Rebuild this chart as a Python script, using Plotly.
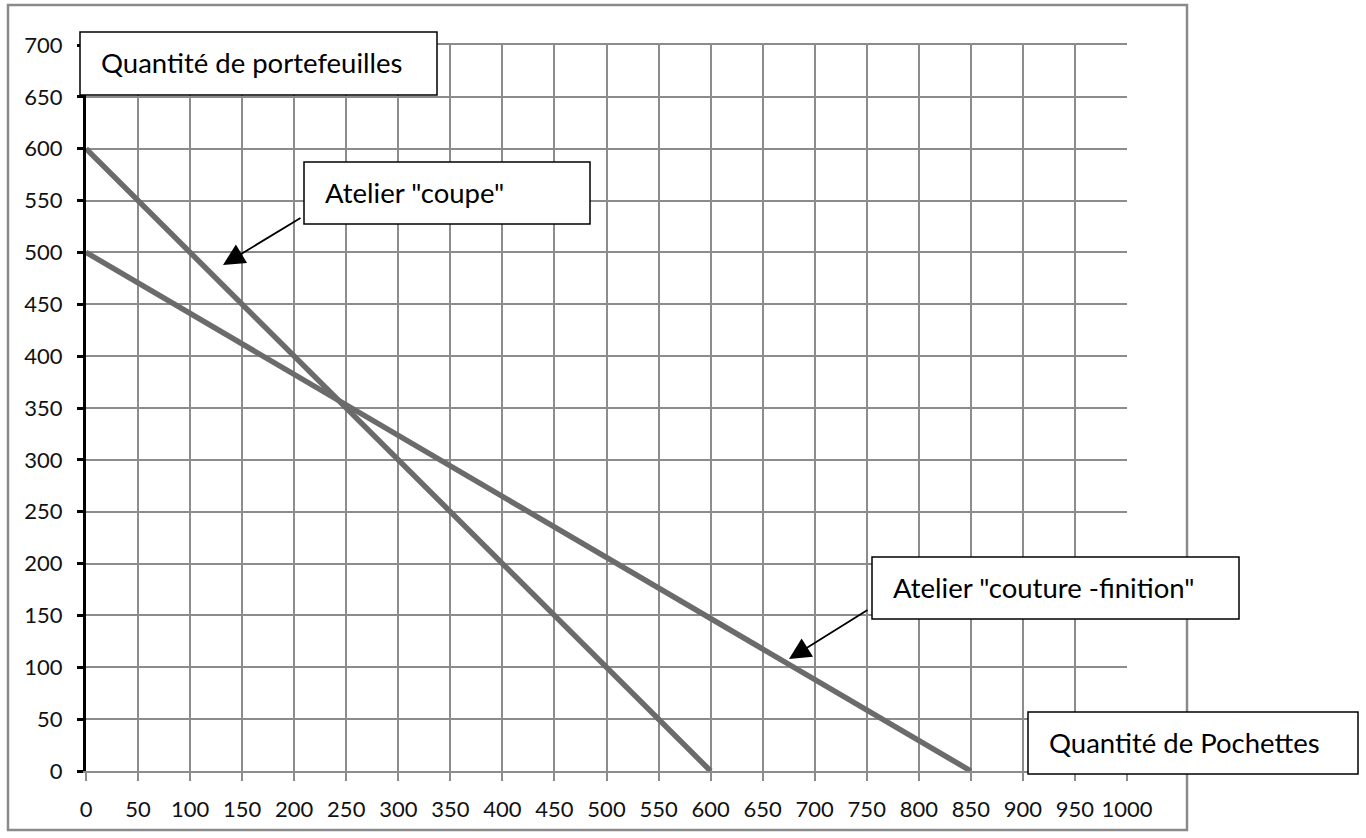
import plotly.graph_objects as go

# ---- data ----
coupe_x = [0, 600]
coupe_y = [600, 0]
couture_x = [0, 850]
couture_y = [500, 0]

x_ticks = list(range(0, 1001, 50))
y_ticks = list(range(0, 701, 50))

label_y_axis = "Quantité de portefeuilles"
label_x_axis = "Quantité de Pochettes"
label_coupe = 'Atelier "coupe"'
label_couture = 'Atelier "couture -finition"'

# ---- layout geometry (page pixels; body margin removed below) ----
W, H = 1366, 838
L, R, T, B = 86, 1127, 45, 771  # plot area in page pixels


def px(X):
    return (X - L) / (R - L)


def py(Y):
    return (B - Y) / (B - T)


LINE_COLOR = "#6b6b6b"
GRID_COLOR = "#8c8c8c"
FONT = "Lato, Carlito, 'Open Sans', sans-serif"

fig = go.Figure()
fig.add_trace(go.Scatter(x=coupe_x, y=coupe_y, mode="lines",
                         line=dict(color=LINE_COLOR, width=5.5),
                         showlegend=False, hoverinfo="skip"))
fig.add_trace(go.Scatter(x=couture_x, y=couture_y, mode="lines",
                         line=dict(color=LINE_COLOR, width=5.5),
                         showlegend=False, hoverinfo="skip"))

shapes = []
# outer chart border
shapes.append(dict(type="rect", xref="paper", yref="paper",
                   x0=px(8), x1=px(1187), y0=py(830), y1=py(5),
                   line=dict(color="#8a8a8a", width=2.5), layer="below"))

boxes = [
    (80, 437, 32, 95, label_y_axis),
    (304, 590, 162, 224, label_coupe),
    (872, 1239, 557, 619, label_couture),
    (1028, 1358, 712, 774, label_x_axis),
]
annotations = []
for x0, x1, y0, y1, txt in boxes:
    shapes.append(dict(type="rect", xref="paper", yref="paper",
                       x0=px(x0), x1=px(x1), y0=py(y1), y1=py(y0),
                       line=dict(color="black", width=1.5),
                       fillcolor="white", layer="above"))
    annotations.append(dict(xref="paper", yref="paper",
                            x=px(x0 + 19), y=py((y0 + y1) / 2 - 1),
                            xanchor="left", yanchor="middle",
                            text=txt, showarrow=False,
                            font=dict(family=FONT, size=27.5, color="black")))

# arrows (tail -> head), page pixel positions
arrows = [((302, 217), (223, 265)), ((869, 609), (789, 659))]
for (tx, ty), (hx, hy) in arrows:
    annotations.append(dict(xref="paper", yref="paper",
                            x=px(hx), y=py(hy),
                            axref="pixel", ayref="pixel",
                            ax=tx - hx, ay=ty - hy,
                            text="", showarrow=True,
                            arrowhead=2, arrowsize=2.4, arrowwidth=1.8,
                            arrowcolor="black"))

fig.update_layout(
    width=W, height=H,
    margin=dict(l=L, r=W - R, t=T, b=H - B, pad=0, autoexpand=False),
    paper_bgcolor="white", plot_bgcolor="white",
    shapes=shapes, annotations=annotations,
    font=dict(family=FONT, size=22, color="#111111"),
    xaxis=dict(range=[0, 1000], tickvals=x_ticks, ticktext=[str(v) for v in x_ticks],
               automargin=False,
               showgrid=True, gridcolor=GRID_COLOR, gridwidth=2,
               zeroline=False, showline=True, linecolor=GRID_COLOR, linewidth=2,
               mirror=True,
               ticks="outside", ticklen=8, tickwidth=2, tickcolor=GRID_COLOR,
               ticklabelstandoff=10, fixedrange=True),
    yaxis=dict(range=[0, 700], tickvals=y_ticks, ticktext=[str(v) for v in y_ticks],
               automargin=False,
               showgrid=True, gridcolor=GRID_COLOR, gridwidth=2,
               zeroline=False, showline=True, linecolor="black", linewidth=3,
               ticks="outside", ticklen=6, tickwidth=3, tickcolor="black",
               ticklabelstandoff=10, fixedrange=True),
)

fig.write_html("out.html",
               config={"displayModeBar": False, "staticPlot": True},
               post_script="document.body.style.margin='0px';"
                           "document.body.style.overflow='hidden';")
